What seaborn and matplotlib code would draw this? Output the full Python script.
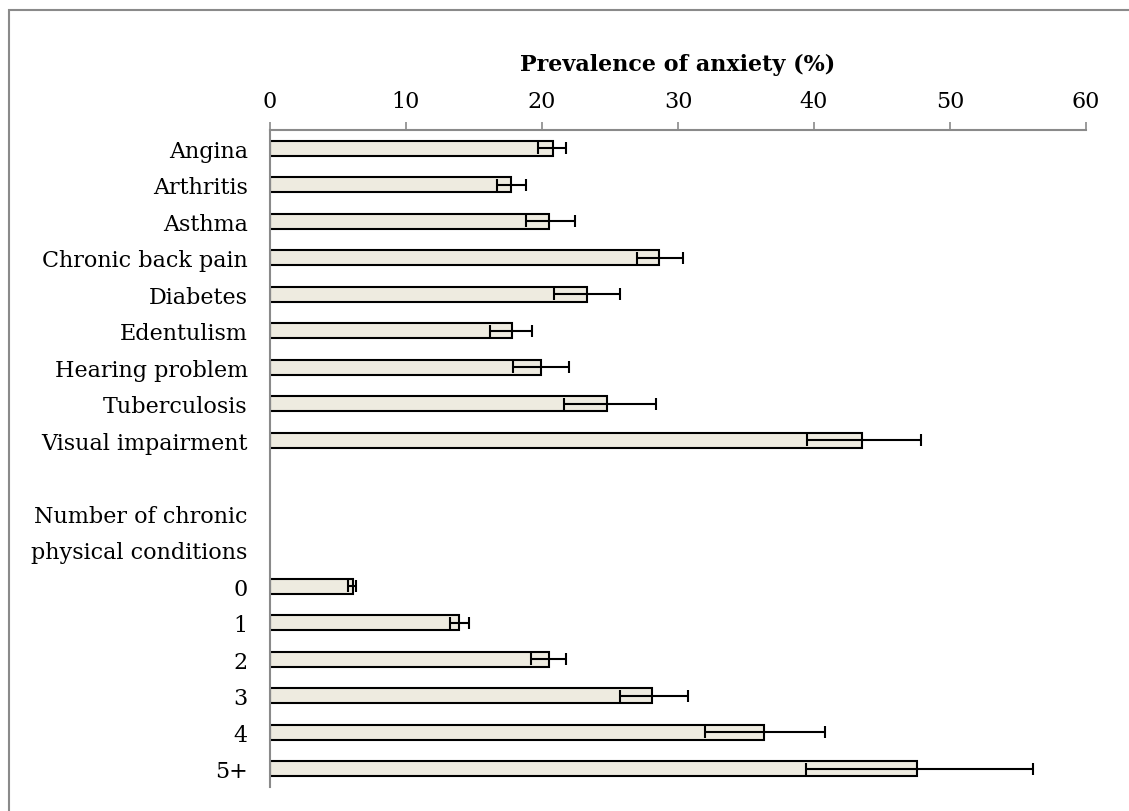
import matplotlib
matplotlib.use("Agg")
import matplotlib.pyplot as plt
import seaborn as sns
import pandas as pd
from matplotlib.patches import Rectangle

# ---- data ----
conditions = ["Angina", "Arthritis", "Asthma", "Chronic back pain", "Diabetes",
              "Edentulism", "Hearing problem", "Tuberculosis", "Visual impairment"]
cond_prev = [20.8, 17.7, 20.5, 28.6, 23.3, 17.8, 19.9, 24.8, 43.5]
cond_lo = [19.7, 16.7, 18.8, 27.0, 20.9, 16.2, 17.9, 21.6, 39.5]
cond_hi = [21.8, 18.8, 22.4, 30.4, 25.7, 19.3, 22.0, 28.4, 47.9]

counts = ["0", "1", "2", "3", "4", "5+"]
count_prev = [6.1, 13.9, 20.5, 28.1, 36.3, 47.6]
count_lo = [5.7, 13.2, 19.2, 25.7, 32.0, 39.4]
count_hi = [6.3, 14.6, 21.8, 30.7, 40.8, 56.1]

spacer_labels = [" ", "Number of chronic", "physical conditions"]
x_ticks = [0, 10, 20, 30, 40, 50, 60]
x_title = "Prevalence of anxiety (%)"

labels = conditions + counts
prev = cond_prev + count_prev
lo = cond_lo + count_lo
hi = cond_hi + count_hi
order = conditions + spacer_labels + counts

df = pd.DataFrame({"label": labels, "prev": prev, "lo": lo, "hi": hi})

# ---- style ----
sns.set_theme(style="white")
plt.rcParams["font.family"] = ["DejaVu Serif"]
plt.rcParams["text.color"] = "black"
plt.rcParams["xtick.color"] = "black"
plt.rcParams["ytick.color"] = "black"
plt.rcParams["axes.labelcolor"] = "black"
FS = 16
GRAY = "#8a8a8a"

fig = plt.figure(figsize=(11.29, 8.12), dpi=100)
ax = fig.add_axes([270 / 1129, 1 - 788 / 812, (1086 - 270) / 1129, (788 - 131) / 812])

sns.barplot(data=df, y="label", x="prev", order=order, orient="h",
            color="#eeebe0", saturation=1, width=0.41, edgecolor="black",
            linewidth=1.5, errorbar=None, ax=ax)

ypos = [order.index(l) for l in df["label"]]
xerr = [df["prev"] - df["lo"], df["hi"] - df["prev"]]
ax.errorbar(df["prev"], ypos, xerr=xerr, fmt="none", ecolor="black",
            elinewidth=1.5, capsize=4.5, capthick=1.5, zorder=5)

ax.set_xlim(0, 60)
ax.set_ylim(len(order) - 0.5, -0.5)
ax.set_xticks(x_ticks)
ax.xaxis.tick_top()
ax.xaxis.set_label_position("top")
ax.set_xlabel(x_title, fontsize=FS, fontweight="bold", labelpad=14)
ax.set_ylabel("")
ax.tick_params(axis="x", direction="out", length=6, width=1.2, color=GRAY,
               labelcolor="black", labelsize=FS, pad=7, top=True, bottom=False)
ax.tick_params(axis="y", length=0, labelsize=FS, labelcolor="black", pad=16)
for s in ["right", "bottom"]:
    ax.spines[s].set_visible(False)
for s in ["top", "left"]:
    ax.spines[s].set_color(GRAY)
    ax.spines[s].set_linewidth(1.5)
ax.grid(False)

fig.patches.append(Rectangle((9 / 1129, -0.1), 1.2, 1 - 11 / 812 + 0.1,
                             transform=fig.transFigure, fill=False,
                             edgecolor=GRAY, linewidth=1.5))

fig.savefig("out.png", dpi=100)
